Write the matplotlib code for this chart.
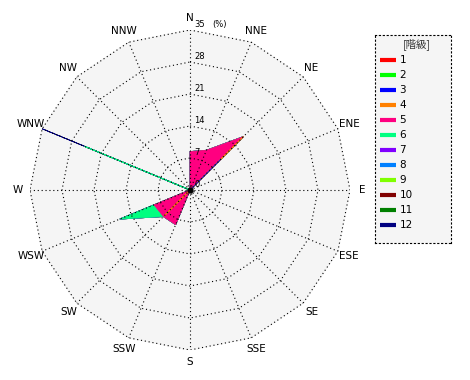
import numpy as np
import matplotlib.pyplot as plt

# wind directions, clockwise from north
directions = ['N', 'NNE', 'NE', 'ENE', 'E', 'ESE', 'SE', 'SSE',
              'S', 'SSW', 'SW', 'WSW', 'W', 'WNW', 'NW', 'NNW']

# class (階級) labels and colours
classes = ['1', '2', '3', '4', '5', '6', '7', '8', '9', '10', '11', '12']
class_colors = ['#ff0000', '#00ff00', '#0000ff', '#ff8000', '#ff0080', '#00ff80',
                '#8000ff', '#0080ff', '#80ff00', '#800000', '#008000', '#000080']

# frequency (%) per class for each direction (N ... NNW)
cls1 = [0, 0, 0, 0, 0, 0, 0, 0, 0, 0, 0, 0, 0, 0, 0, 0]
cls2 = [0, 0, 0, 0, 0, 0, 0, 0, 0, 0, 0, 0, 0, 0, 0, 0]
cls3 = [0, 0, 9.6, 0, 0, 0, 0, 0, 0, 0, 0, 0, 0, 0, 0, 0]
cls4 = [0, 0, 6.9, 0, 0, 0, 0, 0, 0, 0, 8.0, 0, 0, 0, 0, 0]
cls5 = [8.4, 9.4, 0, 0, 0, 0, 0, 0, 0, 8.2, 0.2, 8.5, 0, 0, 0, 0]
cls6 = [0, 0, 0, 0, 0, 0, 0, 0, 0, 0, 0, 8.1, 0, 25.0, 0, 0]
cls7 = [0, 0, 0, 0, 0, 0, 0, 0, 0, 0, 0, 0, 0, 0, 0, 0]
cls8 = [0, 0, 0, 0, 0, 0, 0, 0, 0, 0, 0, 0, 0, 0, 0, 0]
cls9 = [0, 0, 0, 0, 0, 0, 0, 0, 0, 0, 0, 0, 0, 0, 0, 0]
cls10 = [0, 0, 0, 0, 0, 0, 0, 0, 0, 0, 0, 0, 0, 0, 0, 0]
cls11 = [0, 0, 0, 0, 0, 0, 0, 0, 0, 0, 0, 0, 0, 0, 0, 0]
cls12 = [0, 0, 0, 0, 0, 0, 0, 0, 0, 0, 0, 0, 0, 10.0, 0, 0]

# radial rings (%)
ring_values = [7, 14, 21, 28, 35]
ring_labels = ['0', '7', '14', '21', '28', '35']
R_MAX = 35

theta = np.deg2rad(np.arange(len(directions)) * 360.0 / len(directions))


def to_xy(r):
    # polar (clockwise from north) -> cartesian
    r = np.asarray(r, dtype=float)
    return r * np.sin(theta), r * np.cos(theta)


def closed(a):
    return np.append(a, a[0])


fig = plt.figure(figsize=(4.7, 3.8), dpi=100)
ax = fig.add_axes([30 / 470, 30 / 380, 320 / 470, 320 / 380])
ax.set_xlim(-R_MAX, R_MAX)
ax.set_ylim(-R_MAX, R_MAX)
ax.axis('off')

# light background inside the outer ring
bx, by = to_xy([R_MAX] * len(directions))
ax.fill(bx, by, color='#f5f5f5', zorder=0)

# stacked class polygons: outermost (largest class) drawn first
values = np.array([cls1, cls2, cls3, cls4, cls5, cls6,
                   cls7, cls8, cls9, cls10, cls11, cls12])
cum = np.cumsum(values, axis=0)
for i in reversed(range(len(classes))):
    x, y = to_xy(cum[i])
    ax.fill(x, y, facecolor=class_colors[i], edgecolor=class_colors[i],
            linewidth=0.6, zorder=2)

# dotted polygon grid
dot = (0, (1, 2.5))
for r in ring_values:
    x, y = to_xy([r] * len(directions))
    ax.plot(closed(x), closed(y), color='black', linestyle=dot, linewidth=0.8, zorder=3)
for t in theta:
    ax.plot([0, R_MAX * np.sin(t)], [0, R_MAX * np.cos(t)],
            color='black', linestyle=dot, linewidth=0.8, zorder=3)

ax.plot(0, 0, 'o', color='black', markersize=3.5, zorder=4)

# radial labels
for r, lab in zip([0] + ring_values, ring_labels):
    ax.text(1.0, r + 0.2, lab, fontsize=6, ha='left', va='bottom', zorder=5)
ax.text(4.9, R_MAX + 0.2, '(%)', fontsize=6, ha='left', va='bottom', zorder=5)

# direction labels
lx, ly = to_xy([R_MAX * 1.075] * len(directions))
for x, y, d in zip(lx, ly, directions):
    ax.text(x, y, d, fontsize=7.5, ha='center', va='center', clip_on=False)

# legend box
lg = fig.add_axes([375 / 470, (380 - 243) / 380, 76 / 470, 208 / 380])
lg.set_xlim(0, 76)
lg.set_ylim(208, 0)
lg.set_xticks([])
lg.set_yticks([])
lg.set_facecolor('#f5f5f5')
for s in lg.spines.values():
    s.set_linestyle(dot)
    s.set_linewidth(0.8)
lg.text(41.5, 9, '[階級]', fontsize=7.5, ha='center', va='center', color='#333333',
        family=['Noto Sans CJK JP', 'DejaVu Sans'])
for i, (lab, c) in enumerate(zip(classes, class_colors)):
    yy = 25 + 15 * i
    lg.plot([5, 21], [yy, yy], color=c, linewidth=3, solid_capstyle='butt')
    lg.text(24.5, yy, lab, fontsize=7.5, ha='left', va='center')

fig.savefig('out.png', dpi=100)
